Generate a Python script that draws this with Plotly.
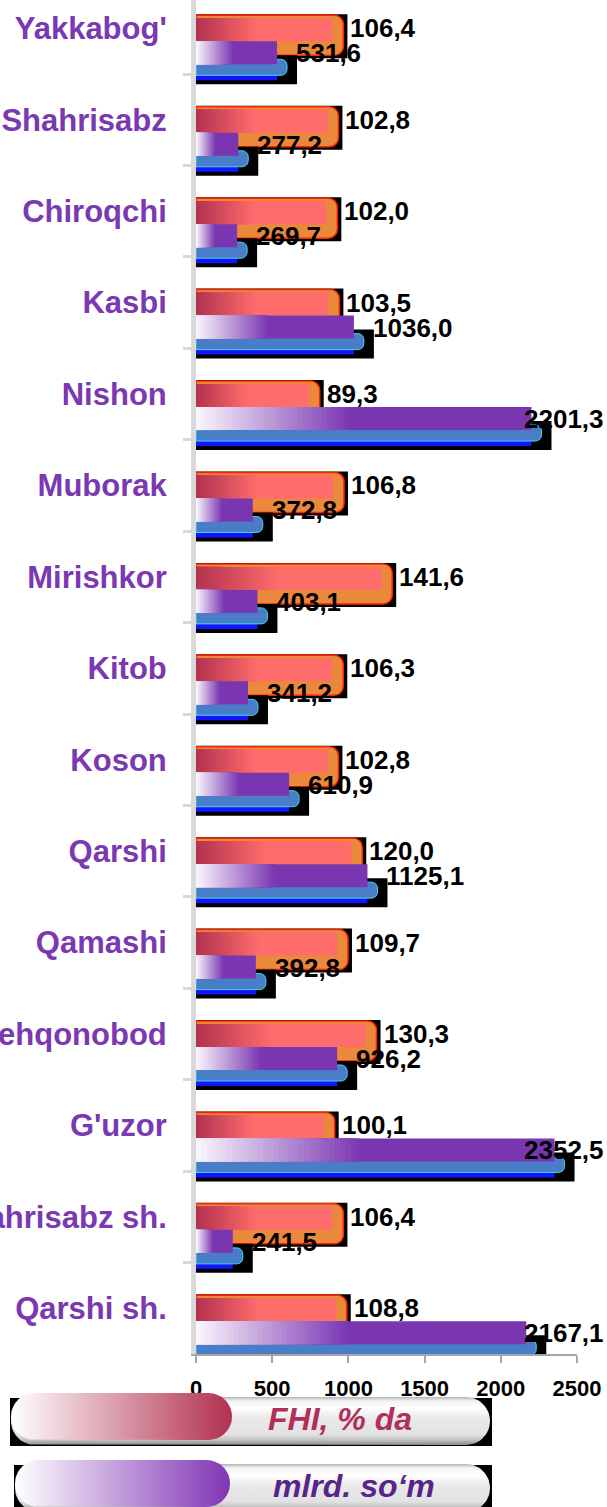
import math
import plotly.graph_objects as go

# ---- data -------------------------------------------------------------
districts = ["Yakkabog'", "Shahrisabz", "Chiroqchi", "Kasbi", "Nishon", "Muborak",
             "Mirishkor", "Kitob", "Koson", "Qarshi", "Qamashi", "Dehqonobod",
             "G'uzor", "Shahrisabz sh.", "Qarshi sh."]
fhi_pct = [106.4, 102.8, 102.0, 103.5, 89.3, 106.8, 141.6, 106.3, 102.8,
           120.0, 109.7, 130.3, 100.1, 106.4, 108.8]
mlrd_som = [531.6, 277.2, 269.7, 1036.0, 2201.3, 372.8, 403.1, 341.2, 610.9,
            1125.1, 392.8, 926.2, 2352.5, 241.5, 2167.1]
x_ticks = [0, 500, 1000, 1500, 2000, 2500]
legend_names = ["FHI, % da", "mlrd. so\u2018m"]

# ---- geometry (pixels) ------------------------------------------------
W, H = 607, 1507
PLOT_L, PLOT_R = 196, 577
PLOT_B = 1354
FHI_MAX, SOM_MAX = 275, 2500
Y_TOP, Y_BOT = -0.31, 14.5
PX_CAT = PLOT_B / (Y_BOT - Y_TOP)

FONT = "Liberation Sans, Arial, sans-serif"
LABEL_SIZE = 26


def dy(px):
    """pixels -> category units"""
    return px / PX_CAT


def fx(px):
    """pixels -> FHI axis units"""
    return px * FHI_MAX / (PLOT_R - PLOT_L)


def sx(px):
    """pixels -> mlrd axis units"""
    return px * SOM_MAX / (PLOT_R - PLOT_L)


def mix(c0, c1, t):
    a = [int(c0[i:i + 2], 16) for i in (1, 3, 5)]
    b = [int(c1[i:i + 2], 16) for i in (1, 3, 5)]
    return "#" + "".join(f"{round(p + (q - p) * t):02x}" for p, q in zip(a, b))


fig = go.Figure()


def bar(xaxis, lengths, off_px, h_px, color, **marker):
    fig.add_trace(go.Bar(
        y=districts, x=lengths, orientation="h", xaxis=xaxis, yaxis="y",
        offset=dy(off_px), width=dy(h_px), hoverinfo="skip",
        marker=dict(color=color, line=dict(width=0), **marker),
        showlegend=False))


def gradient_bar(xaxis, lengths, off_px, h_px, c_start, c_end, frac, n=32):
    # solid body, then progressively shorter layers fading toward c_start
    bar(xaxis, lengths, off_px, h_px, c_end)
    for j in range(n):
        t = 1 - (j + 0.5) / n
        bar(xaxis, [v * frac * (1 - j / n) for v in lengths], off_px, h_px,
            mix(c_start, c_end, t))


# ---- FHI series (x axis, 0..275) --------------------------------------
bar("x", [v + fx(4) for v in fhi_pct], -14, 44, "#000000")
fig.add_trace(go.Bar(
    y=districts, x=fhi_pct, orientation="h", xaxis="x", yaxis="y",
    offset=dy(-13), width=dy(40), hoverinfo="skip", showlegend=False,
    marker=dict(color="#EA883C", cornerradius=9,
                line=dict(color="#FF2200", width=1.5))))
gradient_bar("x", [v - fx(11) for v in fhi_pct], -10, 23,
             "#B2324F", "#FF6C6C", 0.45)

# ---- mlrd so'm series (x2 axis, 0..2500) ------------------------------
bar("x2", [v + sx(20) for v in mlrd_som], 27, 29, "#000000")
bar("x2", mlrd_som, 46, 6, "#1414FF")
fig.add_trace(go.Bar(
    y=districts, x=[v + sx(10) for v in mlrd_som], orientation="h",
    xaxis="x2", yaxis="y", offset=dy(31), width=dy(16), hoverinfo="skip",
    showlegend=False,
    marker=dict(color="#4A7DC8", cornerradius=6,
                line=dict(color="#3FD8F2", width=1))))
gradient_bar("x2", mlrd_som, 13, 23, "#FAF7FD", "#7A36B1", 0.46)

# ---- value labels -----------------------------------------------------
def fmt(v):
    return f"{v:.1f}".replace(".", ",")


def text_px(s):
    # approximate bold Arial advance widths
    return sum(0.278 if c == "," else 0.556 for c in s) * LABEL_SIZE


label_font = dict(family=FONT, size=LABEL_SIZE, color="#000000", weight="bold")
for name, v in zip(districts, fhi_pct):
    fig.add_annotation(x=v, y=name, xref="x", yref="y", text=fmt(v),
                       showarrow=False, xanchor="left", yanchor="middle",
                       xshift=5, yshift=0, font=label_font)
som_px = (PLOT_R - PLOT_L) / SOM_MAX
for name, v in zip(districts, mlrd_som):
    txt = fmt(v)
    if PLOT_L + v * som_px + 17 + text_px(txt) > W:
        # keep long labels inside the page, flush with its right edge
        fig.add_annotation(x=1, y=name, xref="paper", yref="y", text=txt,
                           showarrow=False, xanchor="right", yanchor="middle",
                           xshift=-1, yshift=-25, font=label_font)
    else:
        fig.add_annotation(x=v, y=name, xref="x2", yref="y", text=txt,
                           showarrow=False, xanchor="left", yanchor="middle",
                           xshift=17, yshift=-25, font=label_font)


# ---- legend pills (x3/y3 in pixel units) ------------------------------
def pill(x0, x1, y0, y1, n=30):
    r = (y1 - y0) / 2
    cy = (y0 + y1) / 2
    xs, ys = [], []
    for k in range(n + 1):
        a = -math.pi / 2 + math.pi * k / n
        xs.append(x1 - r + r * math.cos(a))
        ys.append(cy + r * math.sin(a))
    for k in range(n + 1):
        a = math.pi / 2 + math.pi * k / n
        xs.append(x0 + r + r * math.cos(a))
        ys.append(cy + r * math.sin(a))
    xs.append(xs[0])
    ys.append(ys[0])
    return xs, ys


def poly(xs, ys, **kw):
    fig.add_trace(go.Scatter(x=xs, y=ys, xaxis="x3", yaxis="y3", mode="lines",
                             line=dict(width=0), fill="toself",
                             hoverinfo="skip", showlegend=False, **kw))


legend_specs = [
    (legend_names[0], 1397, "#B2304F", "#B0305A", 0),
    (legend_names[1], 1464, "#8035B5", "#58248A", 4),
]
gray_scale = [[0, "#B4B4B4"], [0.08, "#F2F2F2"], [0.22, "#FFFFFF"],
              [0.45, "#E9E9E9"], [0.78, "#E2E2E2"], [0.9, "#C0C0C0"],
              [1, "#8A8A8A"]]
for name, top, c_end, txt_col, dx in legend_specs:
    h = 48
    poly([10 + dx, 492, 492, 10 + dx, 10 + dx],
         [top + 1, top + 1, top + h + 1, top + h + 1, top + 1],
         fillcolor="#000000")
    xs, ys = pill(11 + dx, 490, top, top + h)
    poly(xs, ys, fillgradient=dict(type="vertical", colorscale=gray_scale,
                                   start=top, stop=top + h))
    xs, ys = pill(11 + dx, 232 - dx / 2, top - 4, top + h - 5)
    poly(xs, ys, fillgradient=dict(type="horizontal",
                                   colorscale=[[0, "#FFFFFF"], [1, c_end]],
                                   start=11 + dx, stop=232 - dx / 2))
    fig.add_annotation(x=340 + dx * 3.5, y=top + h / 2 - 2, xref="x3", yref="y3",
                       text=name, showarrow=False, xanchor="center",
                       yanchor="middle",
                       font=dict(family=FONT, size=32, color=txt_col,
                                 weight="bold", style="italic"))

# ---- layout -----------------------------------------------------------
fig.update_layout(
    width=W, height=H, autosize=False,
    margin=dict(l=0, r=0, t=0, b=0, pad=0, autoexpand=False),
    paper_bgcolor="#FFFFFF", plot_bgcolor="rgba(0,0,0,0)",
    barmode="overlay", showlegend=False,
    xaxis=dict(domain=[PLOT_L / W, PLOT_R / W], range=[0, FHI_MAX],
               visible=False, anchor="y", fixedrange=True, automargin=False),
    xaxis2=dict(overlaying="x", anchor="y", side="bottom",
                range=[0, SOM_MAX], tickvals=x_ticks,
                ticktext=[str(t) for t in x_ticks], automargin=False,
                ticks="outside", ticklen=7, tickwidth=1.5,
                tickcolor="#A6A6A6", showline=True, linecolor="#A6A6A6",
                linewidth=1.5, showgrid=False, zeroline=False,
                ticklabelstandoff=7,
                tickfont=dict(family=FONT, size=22, color="#000000",
                              weight="bold")),
    yaxis=dict(domain=[(H - PLOT_B) / H, 1], type="category",
               categoryorder="array", categoryarray=districts,
               range=[Y_BOT, Y_TOP], showline=True, linecolor="#D9D9D9",
               linewidth=5, ticks="outside", tickson="boundaries",
               ticklen=8, tickwidth=3, tickcolor="#D9D9D9",
               showgrid=False, zeroline=False, automargin=False,
               ticklabelstandoff=18,
               tickfont=dict(family=FONT, size=31, color="#7A38B2",
                             weight="bold")),
    xaxis3=dict(domain=[0, 1], range=[0, W], visible=False, anchor="y3",
                fixedrange=True, automargin=False),
    yaxis3=dict(domain=[0, (H - PLOT_B) / H], range=[H, PLOT_B],
                visible=False, anchor="x3", fixedrange=True,
                automargin=False),
)

fig.write_html("out.html")
